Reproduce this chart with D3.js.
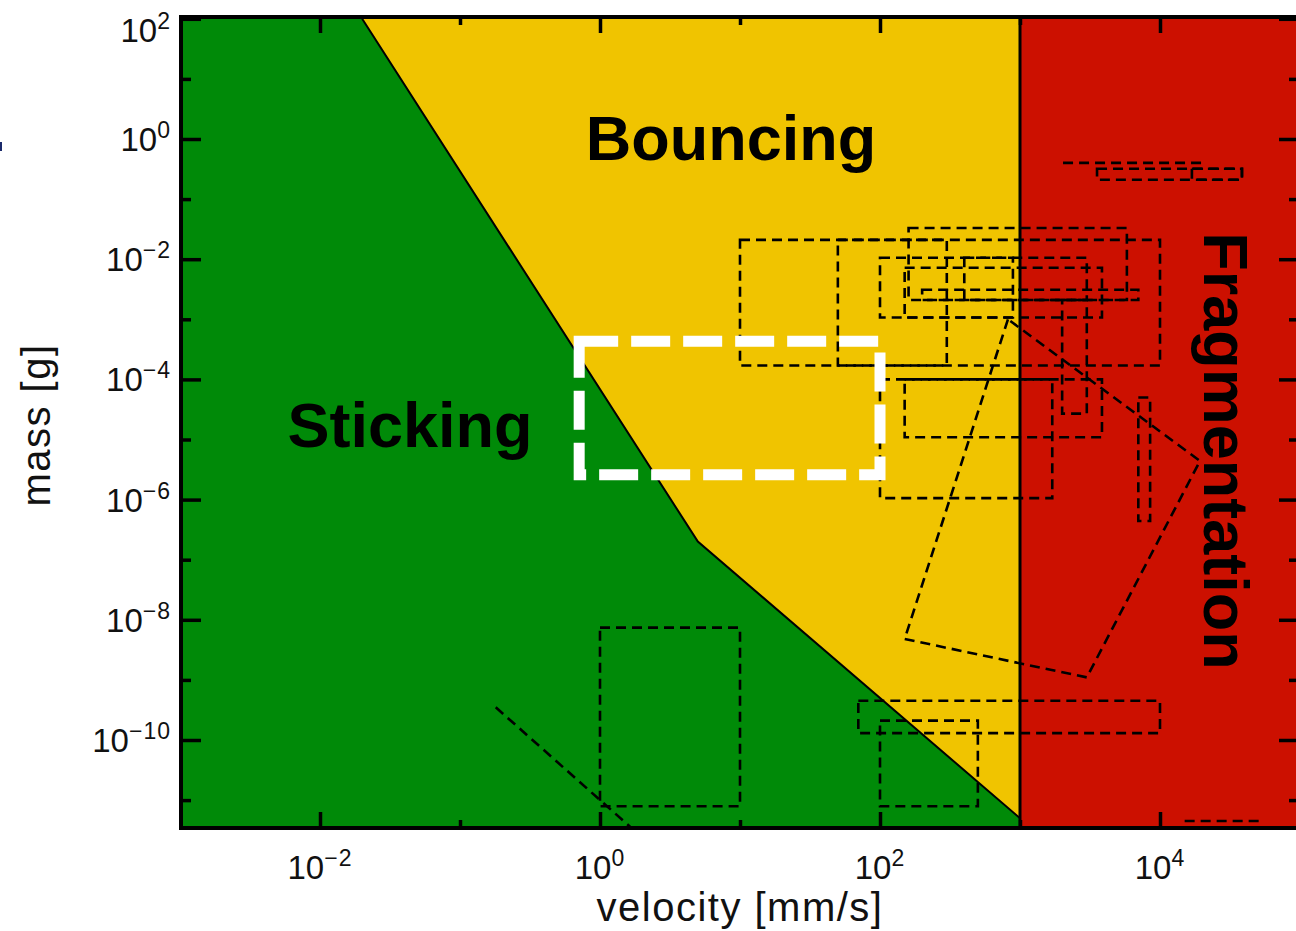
<!DOCTYPE html>
<html>
<head>
<meta charset="utf-8">
<script src="https://cdn.jsdelivr.net/npm/d3@7"></script>
<style>
	html, body { margin: 0; padding: 0; background: #fff; }
	svg { display: block; }
	.tick-label, .axis-title { font-family: "Liberation Sans", Arial, sans-serif; fill: #111; }
	.region-label { font-family: "Liberation Sans", Arial, sans-serif; font-weight: bold; fill: #000; }
</style>
</head>
<body>
<svg id="chart" width="1296" height="931"></svg>
<script>
// sticking / bouncing boundary (velocity mm/s, mass g)
const boundaryVelocity = [0.02, 5, 1000];
const boundaryMass = [100, 2e-7, 5e-12];
const fragmentationVelocity = 1000;

// experiments as [vMin, vMax, mMin, mMax]
const experimentBoxes = [
	[10, 300, 1.7e-4, 2.1e-2],
	[50, 1e4, 1.7e-4, 2.1e-2],
	[160, 5800, 2.1e-3, 3.3e-2],
	[100, 890, 1.07e-3, 1.06e-2],
	[150, 3850, 1.07e-3, 7.2e-3],
	[200, 7000, 2.1e-3, 3.1e-3],
	[400, 3000, 2.1e-3, 1.06e-2],
	[2000, 3000, 2.7e-5, 2.1e-3],
	[100, 1700, 1.06e-6, 1e-4],
	[150, 3850, 1.09e-5, 1e-4],
	[7000, 8500, 4.4e-7, 5e-5],
	[3550, 38500, 0.21, 0.32],
	[16900, 38500, 0.21, 0.32],
	[70, 1e4, 1.3e-10, 4.5e-10],
	[100, 500, 7.9e-12, 2.1e-10],
	[1, 10, 7.9e-12, 7.4e-9]
];
const outlineVelocity = [820, 150, 3000, 19300];
const outlineMass = [1e-3, 4.8e-9, 1.1e-9, 4.4e-6];
const experimentLines = [
	[[0.18, 3.5e-10], [1.64, 3.6e-12]],
	[[2030, 0.4], [21000, 0.4]],
	[[15000, 4.5e-12], [53600, 4.5e-12]]
];
const highlightVelocity = [0.71, 100];
const highlightMass = [2.6e-6, 4.3e-4];

const regionNames = ['Sticking', 'Bouncing', 'Fragmentation'];

const velocityMajorTicks = [1e-2, 1, 1e2, 1e4];
const velocityMinorTicks = [1e-1, 1e1, 1e3];
const massMajorTicks = [1e2, 1, 1e-2, 1e-4, 1e-6, 1e-8, 1e-10];
const massMinorTicks = [1e1, 1e-1, 1e-3, 1e-5, 1e-7, 1e-9, 1e-11];

const xTitle = 'velocity [mm/s]';
const yTitle = 'mass [g]';

const CollisionChart = {
	frame: { left: 181, right: 1299, top: 17, bottom: 828 },
	colors: { sticking: '#008a08', bouncing: '#f0c400', fragmentation: '#cc1000' },

	render: function() {
		const self = CollisionChart;
		let svg = d3.select('#chart');
		let x = d3.scaleLog().domain([1, 1e4]).range([600, 1160]);
		let y = d3.scaleLog().domain([1, 1e-10]).range([139, 740]);

		svg.append('defs').append('clipPath')
			.attr('id', 'plot-clip')
			.append('rect')
			.attr('x', self.frame.left).attr('y', self.frame.top)
			.attr('width', self.frame.right - self.frame.left)
			.attr('height', self.frame.bottom - self.frame.top);

		// stray mark at left edge of the original figure
		svg.append('rect')
			.attr('x', 0).attr('y', 142).attr('width', 2).attr('height', 9)
			.style('fill', '#1b2a6b');

		let plot = svg.append('g').attr('clip-path', 'url(#plot-clip)');
		self.drawRegions(plot, x, y);
		self.drawExperiments(plot, x, y);
		self.drawAxes(svg, x, y);
		self.drawLabels(svg, x, y);
	},

	drawRegions: function(plot, x, y) {
		const self = CollisionChart;
		let vLeft = x.invert(self.frame.left);
		let vRight = x.invert(self.frame.right);
		let mTop = y.invert(self.frame.top);
		let mBottom = y.invert(self.frame.bottom);
		let boundary = boundaryVelocity.map((v, i) => [v, boundaryMass[i]]);
		let line = d3.line().x(d => x(d[0])).y(d => y(d[1]));

		let greenPoints = [[vLeft, mTop], [boundaryVelocity[0], mTop]]
			.concat(boundary)
			.concat([[fragmentationVelocity, mBottom], [vLeft, mBottom]]);
		let yellowPoints = [[boundaryVelocity[0], mTop]]
			.concat(boundary)
			.concat([[fragmentationVelocity, mTop]]);
		let redPoints = [[fragmentationVelocity, mTop], [vRight, mTop], [vRight, mBottom], [fragmentationVelocity, mBottom]];

		plot.append('path').attr('d', line(greenPoints) + 'Z').style('fill', self.colors.sticking);
		plot.append('path').attr('d', line(yellowPoints) + 'Z').style('fill', self.colors.bouncing);
		plot.append('path').attr('d', line(redPoints) + 'Z').style('fill', self.colors.fragmentation);

		plot.append('path')
			.attr('d', line(boundary))
			.style('fill', 'none').style('stroke', '#000').style('stroke-width', 2);
		plot.append('path')
			.attr('d', line([[fragmentationVelocity, mTop], [fragmentationVelocity, mBottom]]))
			.style('fill', 'none').style('stroke', '#000').style('stroke-width', 3);
	},

	drawExperiments: function(plot, x, y) {
		let line = d3.line().x(d => x(d[0])).y(d => y(d[1]));
		let boxPath = function(b) {
			return line([[b[0], b[3]], [b[1], b[3]], [b[1], b[2]], [b[0], b[2]]]) + 'Z';
		};
		let dashed = function(sel) {
			sel.style('fill', 'none')
				.style('stroke', '#000')
				.style('stroke-width', 2.6)
				.style('stroke-dasharray', '10,6');
		};

		plot.selectAll('path.experiment-box')
			.data(experimentBoxes)
			.enter()
			.append('path')
			.attr('class', 'experiment-box')
			.attr('d', boxPath)
			.call(dashed);

		let outline = outlineVelocity.map((v, i) => [v, outlineMass[i]]);
		plot.append('path').attr('d', line(outline) + 'Z').call(dashed);

		plot.selectAll('path.experiment-line')
			.data(experimentLines)
			.enter()
			.append('path')
			.attr('class', 'experiment-line')
			.attr('d', line)
			.call(dashed);

		// highlighted parameter range
		plot.append('path')
			.attr('d', boxPath([highlightVelocity[0], highlightVelocity[1], highlightMass[0], highlightMass[1]]))
			.style('fill', 'none')
			.style('stroke', '#fff')
			.style('stroke-width', 11)
			.style('stroke-dasharray', '39,13');
	},

	drawAxes: function(svg, x, y) {
		const self = CollisionChart;
		let f = self.frame;
		let addAxis = function(axis, tx, ty) {
			let g = svg.append('g').attr('transform', 'translate(' + tx + ',' + ty + ')').call(axis);
			g.select('.domain').remove();
			g.selectAll('line').style('stroke', '#000').style('stroke-width', 3.5);
		};

		addAxis(d3.axisBottom(x).tickValues(velocityMajorTicks).tickSizeInner(-16).tickSizeOuter(0).tickFormat(''), 0, f.bottom);
		addAxis(d3.axisBottom(x).tickValues(velocityMinorTicks).tickSizeInner(-8).tickSizeOuter(0).tickFormat(''), 0, f.bottom);
		addAxis(d3.axisTop(x).tickValues(velocityMajorTicks).tickSizeInner(-16).tickSizeOuter(0).tickFormat(''), 0, f.top);
		addAxis(d3.axisTop(x).tickValues(velocityMinorTicks).tickSizeInner(-8).tickSizeOuter(0).tickFormat(''), 0, f.top);
		addAxis(d3.axisLeft(y).tickValues(massMajorTicks).tickSizeInner(-20).tickSizeOuter(0).tickFormat(''), f.left, 0);
		addAxis(d3.axisLeft(y).tickValues(massMinorTicks).tickSizeInner(-10).tickSizeOuter(0).tickFormat(''), f.left, 0);
		addAxis(d3.axisRight(y).tickValues(massMajorTicks).tickSizeInner(-20).tickSizeOuter(0).tickFormat(''), f.right, 0);
		addAxis(d3.axisRight(y).tickValues(massMinorTicks).tickSizeInner(-10).tickSizeOuter(0).tickFormat(''), f.right, 0);

		svg.append('rect')
			.attr('x', f.left).attr('y', f.top)
			.attr('width', f.right - f.left).attr('height', f.bottom - f.top)
			.style('fill', 'none').style('stroke', '#000').style('stroke-width', 4);

		let exponent = d => String(Math.round(Math.log10(d))).replace('-', '\u2212');
		let addPowerLabel = function(sel) {
			sel.attr('class', 'tick-label').style('font-size', '33px');
			sel.append('tspan').text('10');
			sel.append('tspan')
				.attr('dy', -13)
				.style('font-size', '23px')
				.style('letter-spacing', '1px')
				.text(d => exponent(d));
		};

		svg.selectAll('text.x-label')
			.data(velocityMajorTicks)
			.enter()
			.append('text')
			.attr('x', d => x(d))
			.attr('y', 879)
			.attr('text-anchor', 'middle')
			.call(addPowerLabel);

		// top label is pushed down inside the figure
		svg.selectAll('text.y-label')
			.data(massMajorTicks)
			.enter()
			.append('text')
			.attr('x', 171)
			.attr('y', d => Math.max(y(d) + 12, 42))
			.attr('text-anchor', 'end')
			.call(addPowerLabel);

		svg.append('text')
			.attr('class', 'axis-title')
			.attr('x', 740).attr('y', 921)
			.attr('text-anchor', 'middle')
			.style('font-size', '40px')
			.style('letter-spacing', '1.5px')
			.text(xTitle);
		svg.append('text')
			.attr('class', 'axis-title')
			.attr('transform', 'translate(50,425) rotate(-90)')
			.attr('text-anchor', 'middle')
			.style('font-size', '40px')
			.style('letter-spacing', '1.5px')
			.text(yTitle);
	},

	drawLabels: function(svg, x, y) {
		let positions = [
			'translate(410,447)',
			'translate(731,160)',
			'translate(1204,451) rotate(90)'
		];

		svg.selectAll('text.region-label')
			.data(regionNames)
			.enter()
			.append('text')
			.attr('class', 'region-label')
			.attr('transform', (d, i) => positions[i])
			.attr('text-anchor', 'middle')
			.style('font-size', '63px')
			.text(d => d);
	}
}

CollisionChart.render();
</script>
</body>
</html>
